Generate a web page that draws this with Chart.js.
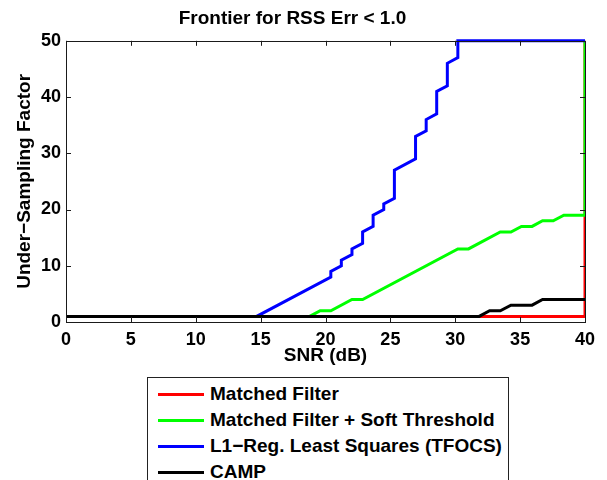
<!DOCTYPE html>
<html>
<head>
<meta charset="utf-8">
<script src="https://cdn.jsdelivr.net/npm/chart.js@4"></script>
<style>
  body { margin: 0; background: #fff; }
  #wrap { position: relative; width: 607px; height: 480px; overflow: hidden; }
  #legend {
    position: absolute; left: 147px; top: 377px; width: 360px; height: 120px;
    border: 1px solid #222; background: #fff;
    font: bold 19px "Liberation Sans", Arial, sans-serif; color: #000;
  }
  .row { position: absolute; left: 0; height: 22px; line-height: 22px; white-space: nowrap; }
  .sw { position: absolute; left: 10px; top: 10px; width: 46px; height: 3px; }
  .lbl { position: absolute; left: 62px; top: 0; }
</style>
</head>
<body>
<div id="wrap">
  <canvas id="chart" width="607" height="480"></canvas>
  <div id="legend"></div>
</div>
<script>
// SNR grid points (dB) and under-sampling factor for each method
const seriesNames = ["Matched Filter", "Matched Filter + Soft Threshold", "L1\u2212Reg. Least Squares (TFOCS)", "CAMP"];
const seriesColors = ["#ff0000", "#00ff00", "#0000ff", "#000000"];

const mfX = [0, 40, 40];
const mfY = [1, 1, 50];

const mfstX = [0, 18.78, 19.59, 20.41, 22.04, 22.86, 30.2, 31.02, 33.47, 34.29, 35.1, 35.92, 36.73, 37.55, 38.37, 40, 40];
const mfstY = [1, 1, 2, 2, 4, 4, 13, 13, 16, 16, 17, 17, 18, 18, 19, 19, 50];

const l1X = [0, 14.69, 20.41, 20.41, 21.22, 21.22, 22.04, 22.04, 22.86, 22.86, 23.67, 23.67, 24.49, 24.49, 25.31, 25.31,
             26.94, 26.94, 27.76, 27.76, 28.57, 28.57, 29.39, 29.39, 30.2, 30.2, 40];
const l1Y = [1, 1, 8, 9, 10, 11, 12, 13, 14, 16, 17, 19, 20, 21, 22, 27,
             29, 33, 34, 36, 37, 41, 42, 46, 47, 50, 50];

const campX = [0, 31.84, 32.65, 33.47, 34.29, 35.92, 36.73, 40];
const campY = [1, 1, 2, 2, 3, 3, 4, 4];

const xTicks = [0, 5, 10, 15, 20, 25, 30, 35, 40];
const yTicks = [0, 10, 20, 30, 40, 50];

const xs = [mfX, mfstX, l1X, campX];
const ys = [mfY, mfstY, l1Y, campY];

const FONT = "'Liberation Sans', Arial, sans-serif";

// box and inward ticks like matlab axes
const boxPlugin = {
    id: "box",
    afterDraw(chart) {
        const { ctx, chartArea: a, scales } = chart;
        ctx.save();
        ctx.strokeStyle = "#1a1a1a";
        ctx.lineWidth = 1;
        ctx.strokeRect(Math.round(a.left) + 0.5, Math.round(a.top) + 0.5,
            Math.round(a.right - a.left), Math.round(a.bottom - a.top));
        ctx.beginPath();
        xTicks.forEach(t => {
            const px = Math.round(scales.x.getPixelForValue(t)) + 0.5;
            ctx.moveTo(px, a.bottom); ctx.lineTo(px, a.bottom - 5);
            ctx.moveTo(px, a.top); ctx.lineTo(px, a.top + 5);
        });
        yTicks.forEach(t => {
            const py = Math.round(scales.y.getPixelForValue(t)) + 0.5;
            ctx.moveTo(a.left, py); ctx.lineTo(a.left + 5, py);
            ctx.moveTo(a.right, py); ctx.lineTo(a.right - 5, py);
        });
        ctx.stroke();
        ctx.restore();
    }
};

const chart = new Chart(document.getElementById("chart"), {
    type: "line",
    data: {
        datasets: seriesNames.map((name, i) => ({
            label: name,
            data: xs[i].map((x, j) => ({ x, y: ys[i][j] })),
            borderColor: seriesColors[i],
            backgroundColor: seriesColors[i],
            borderWidth: 3,
            pointRadius: 0,
            tension: 0,
            clip: { left: 4, top: 4, right: 0, bottom: 4 },
            order: seriesNames.length - i   // later series drawn on top
        }))
    },
    options: {
        responsive: false,
        animation: false,
        layout: { padding: { left: 0, right: 22, top: 0, bottom: 113 } },
        plugins: {
            legend: { display: false },
            tooltip: { enabled: false },
            title: {
                display: true,
                text: "Frontier for RSS Err < 1.0",
                color: "#000",
                font: { family: FONT, size: 19, weight: "bold" },
                padding: { top: 7, bottom: 11 }
            }
        },
        scales: {
            x: {
                type: "linear",
                min: 0, max: 40,
                afterBuildTicks: s => { s.ticks = xTicks.map(v => ({ value: v })); },
                afterFit: s => { s.height = 45; },
                grid: { display: false, drawTicks: false },
                border: { display: false },
                ticks: { color: "#000", padding: 7, maxRotation: 0, font: { family: FONT, size: 18, weight: "bold" } },
                title: {
                    display: true, text: "SNR (dB)", color: "#000", padding: 0,
                    font: { family: FONT, size: 19, weight: "bold" }
                }
            },
            y: {
                type: "linear",
                min: 0, max: 50,
                afterBuildTicks: s => { s.ticks = yTicks.map(v => ({ value: v })); },
                afterFit: s => { s.width = 66; },
                grid: { display: false, drawTicks: false },
                border: { display: false },
                ticks: { color: "#000", padding: 5, font: { family: FONT, size: 18, weight: "bold" } },
                title: {
                    display: true, text: "Under\u2212Sampling Factor", color: "#000",
                    padding: { top: 13, bottom: 0 },
                    font: { family: FONT, size: 19, weight: "bold" }
                }
            }
        }
    },
    plugins: [boxPlugin]
});

// legend box built from the datasets
const legend = document.getElementById("legend");
chart.data.datasets.forEach((ds, i) => {
    const row = document.createElement("div");
    row.className = "row";
    row.style.top = (5 + i * 26) + "px";
    row.innerHTML = `<span class="sw" style="background:${ds.borderColor}"></span><span class="lbl">${ds.label}</span>`;
    legend.appendChild(row);
});
</script>
</body>
</html>
